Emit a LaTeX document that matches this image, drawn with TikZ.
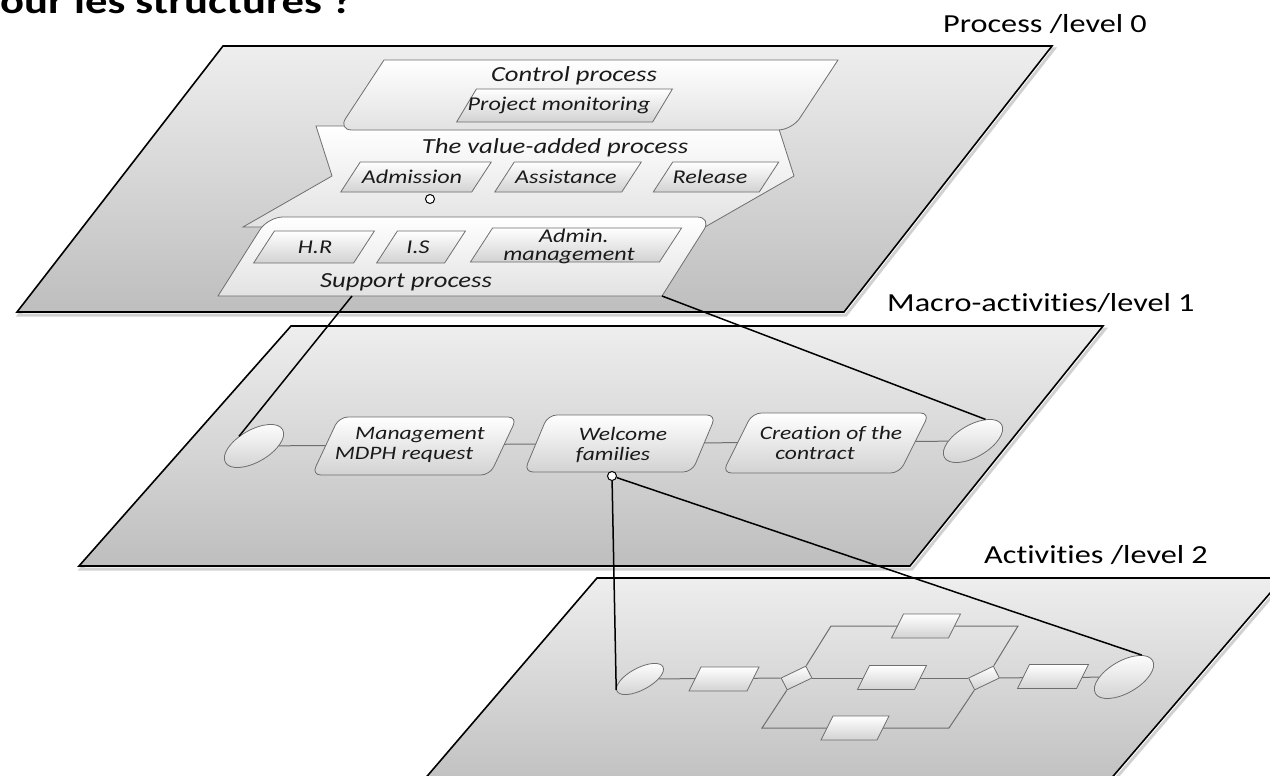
\documentclass[tikz,border=0pt]{standalone}
\usepackage{fontspec}
\setmainfont{Carlito}[RawFeature={-liga;-clig;-calt;-dlig}]
\usetikzlibrary{shapes.geometric}
\definecolor{planetop}{HTML}{EEEEEE}
\definecolor{planebot}{HTML}{BEBEBE}
\definecolor{boxbot}{HTML}{D2D2D2}
\definecolor{contbot}{HTML}{E2E2E2}
\definecolor{edgegray}{HTML}{6E6E6E}
\definecolor{ink}{HTML}{1A1A1A}
% Calibri-like lettering, drawn a little wider than normal
\newcommand\wide[1]{\scalebox{1.24}[1]{#1}}
% slanted box: name, x, y, width, height, slant, style
\newcommand\slantnode[7]{%
  \begin{scope}[shift={(#2,#3)},xslant=#6]
    \node[#7,transform shape,minimum width=#4pt,minimum height=#5pt,inner sep=0pt] (#1) {};
  \end{scope}}
\begin{document}
\begin{tikzpicture}[x=1pt,y=-1pt,
  plane/.style={draw=black,line width=1.6pt,top color=planetop,bottom color=planebot,line join=miter},
  planeshade/.style={draw=black,opacity=0.18,line width=3pt},
  container/.style={draw=edgegray,line width=0.8pt,top color=white,bottom color=contbot},
  pbox/.style={draw=edgegray,line width=0.8pt,top color=white,bottom color=boxbot},
  rbox/.style={pbox,rounded corners=9pt},
  gate/.style={diamond,pbox},
  endev/.style={ellipse,draw=edgegray,line width=0.8pt,top color=white,bottom color=boxbot,inner sep=0pt},
  dot/.style={circle,draw=black,line width=1pt,fill=white,minimum size=9pt,inner sep=0pt},
  flow/.style={draw=edgegray,line width=1pt},
  link/.style={draw=black,line width=1.5pt},
  txt/.style={font=\itshape\fontsize{19}{20.5}\selectfont,text=ink,inner sep=0pt,align=center},
  txtz/.style={txt,font=\itshape\fontsize{19.5}{20.5}\selectfont},
  ttl/.style={txt,font=\itshape\fontsize{21.5}{23}\selectfont},
  lvl/.style={font=\fontsize{26}{30}\selectfont,text=black,inner sep=0pt,anchor=base west}]
\useasboundingbox (0,0) rectangle (1270,776);
\clip (0,0) rectangle (1270,776);

% heading, cut by the page edge
\node[font=\bfseries\fontsize{36}{40}\selectfont,inner sep=0pt,anchor=base west] (title) at (0,14) {\wide{our les structures ?}};

% the three levels
\path[planeshade,shift={(2,3)}] (223,46) -- (1052,46) -- (844,312) -- (17,312) -- cycle;
\path[plane] (223,46) -- (1052,46) -- (844,312) -- (17,312) -- cycle;
\path[planeshade,shift={(2,3)}] (291,326) -- (1103,326) -- (910,566) -- (79,566) -- cycle;
\path[plane] (291,326) -- (1103,326) -- (910,566) -- (79,566) -- cycle;
\path[planeshade,shift={(2,3)}] (597,578) -- (1283,578) -- (1097,795) -- (411,795) -- cycle;
\path[plane] (597,578) -- (1283,578) -- (1097,795) -- (411,795) -- cycle;

\node[lvl] (lv0) at (943,33) {\wide{Process /level 0}};
\node[lvl] (lv1) at (887,311) {\wide{Macro-activities/level 1}};
\node[lvl] (lv2) at (984,563) {\wide{Activities /level 2}};

% level 0: process map
\path[container] (316,126) -- (778,126) -- (794,176) -- (705,227) -- (243,227) -- (332,176) -- cycle;
\path[container] (384,60) -- (838,60) -- (815,95) [rounded corners=14pt] -- (792,130) -- (338,130) -- (361,95) [sharp corners] -- cycle;
\path[container] (218,296) -- (662,296) -- (687,256.5) [rounded corners=15pt] -- (712,217) -- (268,217) -- (243,256.5) [sharp corners] -- cycle;

\node[ttl] (ctl) at (574,76) {\wide{Control process}};
\node[ttl] (vap) at (555,148) {\wide{The value-added process}};
\node[ttl] (sup) at (406,282) {\wide{Support process}};

\slantnode{pm}{564.5}{105.5}{196}{33}{0.6}{pbox}
\slantnode{adm}{416}{177}{131}{30}{0.65}{pbox}
\slantnode{asst}{568}{177}{127}{30}{0.65}{pbox}
\slantnode{rel}{716}{177}{106}{30}{0.65}{pbox}
\slantnode{hr}{314}{247}{100}{32}{0.65}{pbox}
\slantnode{is}{421}{247}{68}{32}{0.65}{pbox}
\slantnode{adm2}{576}{245}{189}{34}{0.65}{pbox}

\node[txtz] (pmt) at (559,105) {\wide{Project monitoring}};
\node[txtz] (admt) at (412,177) {\wide{Admission}};
\node[txtz] (asstt) at (566,177) {\wide{Assistance}};
\node[txtz] (relt) at (710,177) {\wide{Release}};
\node[txtz] (hrt) at (315,247) {\wide{H.R}};
\node[txtz] (ist) at (418,247) {\wide{I.S}};
\node[txtz,font=\itshape\fontsize{19.5}{18}\selectfont] (adm2t) at (570,246) {\hspace*{8pt}\wide{Admin.}\\\wide{management}\hspace*{2pt}};
\node[dot] (adot) at (430,199) {};

\coordinate (sp1) at (352,296);
\coordinate (sp2) at (662,296);

% level 1: macro-activities
\node[endev,minimum width=66pt,minimum height=32pt,rotate=30] (e1l) at (254,446) {};
\node[endev,minimum width=66pt,minimum height=32pt,rotate=30] (e1r) at (973,441) {};
\path[flow] (e1l) -- (e1r);
\slantnode{mgmt}{414.5}{446}{178}{58}{0.47}{rbox}
\slantnode{wel}{620}{443.5}{168}{57}{0.42}{rbox}
\slantnode{cre}{826}{443}{177}{60}{0.5}{rbox}
\node[txt] (mgmtt) at (412,445) {\hspace*{16pt}\wide{Management}\\\wide{MDPH request}\hspace*{16pt}};
\node[txt] (welt) at (618,445) {\hspace*{10pt}\wide{Welcome}\\\wide{families}\hspace*{10pt}};
\node[txt] (cret) at (823,443) {\hspace*{16pt}\wide{Creation of the}\\\wide{contract}\hspace*{16pt}};
\node[dot] (wc) at (612,476) {};

% level 2: activities
\node[endev,minimum width=52pt,minimum height=22pt,rotate=28] (e2l) at (640,679) {};
\node[endev,minimum width=66pt,minimum height=32pt,rotate=30] (e2r) at (1124,677) {};
\slantnode{d1}{796.5}{678}{31}{24}{0.79}{gate}
\slantnode{d2}{984}{678}{31}{24}{0.79}{gate}
\coordinate (u1) at (831,626);
\coordinate (u2) at (1018,626);
\coordinate (l1) at (762,728);
\coordinate (l2) at (949,728);
\path[flow] (e2l) -- (d1);
\path[flow] (d1) -- (d2);
\path[flow] (d2) -- (e2r);
\path[flow] (d1.north) -- (u1) -- (u2) -- (d2.north);
\path[flow] (d1.south) -- (l1) -- (l2) -- (d2.south);
\slantnode{b1}{724}{679}{58}{24}{0.5}{pbox}
\slantnode{bt}{926}{626}{57}{24}{0.5}{pbox}
\slantnode{bm}{892}{677.5}{57}{24}{0.5}{pbox}
\slantnode{bb}{855}{728}{56}{24}{0.5}{pbox}
\slantnode{b5}{1053}{676.5}{59}{24}{0.5}{pbox}

% links between levels
\path[link] (sp1) -- (e1l.117);
\path[link] (sp2) -- (e1r.30);
\path[link] (wc) -- (e2l.177);
\path[link] (wc) -- (e2r.21);
\end{tikzpicture}
\end{document}
